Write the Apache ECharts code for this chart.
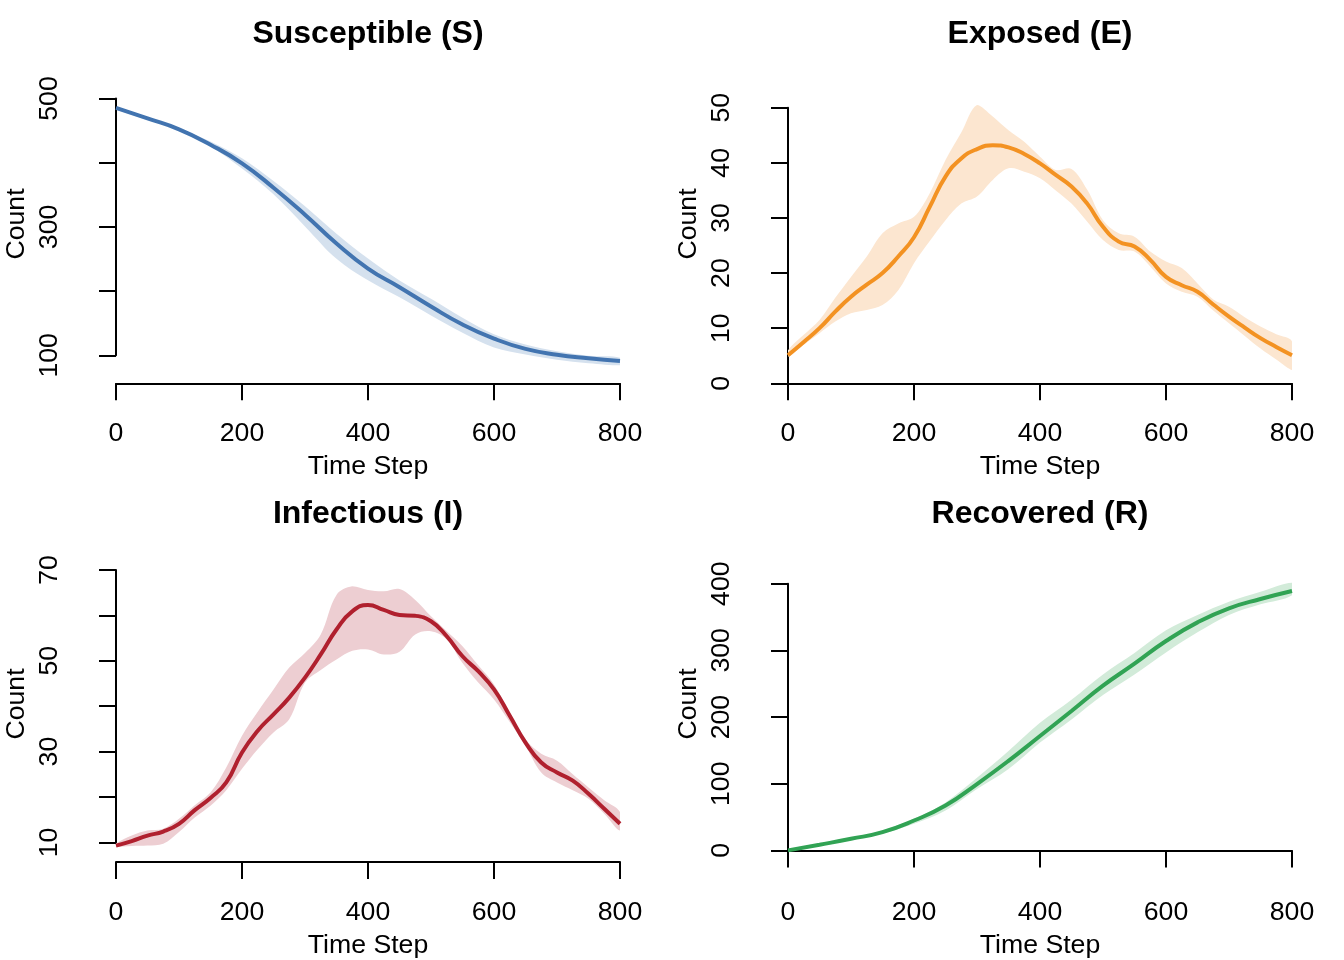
<!DOCTYPE html>
<html><head><meta charset="utf-8">
<script src="https://cdn.jsdelivr.net/npm/echarts@6/dist/echarts.min.js"></script>
<style>html,body{margin:0;padding:0;background:#fff}#c{width:1344px;height:960px}</style>
</head><body><div id="c"></div>
<script>
// ---- data ----
const stepsCoarse = [0,50,100,150,200,250,300,350,400,450,500,550,600,650,700,750,800];
const stepsFine = [0,25,50,75,100,125,150,175,200,225,250,275,300,325,350,375,400,425,450,475,500,525,550,575,600,625,650,675,700,725,750,775,800];
const xTicks = [0,200,400,600,800];

const susMean  = [485.5,469,452,428,399,361,319,274,235,206,176,148,126,110,101,95.5,91];
const susUpper = [486.5,470,453,433.2,406.8,371.5,332,289.3,250.6,216.5,187.9,158.4,132.6,116.7,106.2,99.2,96.3];
const susLower = [484.5,468,451,425.4,391,350.7,300.8,250.3,216.8,190.3,162,135,112,101.2,93.2,87.7,84.4];
const susYLabels = [100,300,500];

const expMean  = [5.1,7.5,10.0,13.0,15.7,17.9,20.0,23.0,26.5,32.0,37.5,40.8,42.5,43.2,42.8,41.6,39.9,37.8,35.7,32.6,28.4,25.7,24.8,22.4,19.3,17.8,16.6,14.3,12.1,10.1,8.2,6.6,5.1];
const expUpper = [6.0,8.8,11.5,15.5,19.3,23.0,27.2,29.0,30.2,34.5,40.5,45.5,50.5,48.4,45.9,43.8,41.1,38.7,38.9,35.1,29.6,27.2,26.6,23.9,22.1,20.9,18.1,15.2,13.9,12.0,10.3,8.9,7.6];
const expLower = [4.8,7.0,9.1,11.2,12.7,13.3,14.2,16.9,21.8,25.8,29.6,32.6,33.9,36.9,39.0,38.4,37.2,35.0,32.6,29.3,26.0,24.2,23.9,21.2,18.1,16.6,15.7,13.2,10.9,8.6,6.3,4.3,2.4];
const expYLabels = [0,10,20,30,40,50];

const infMean  = [9.3,10.3,11.5,12.4,14.1,17.1,19.8,23.2,29.8,34.6,38.2,41.9,46.3,51.4,56.9,60.9,62.3,61.2,60.1,59.9,58.7,55.4,51.0,47.7,43.7,37.9,32.0,27.6,25.4,23.6,20.7,17.4,14.1];
const infUpper = [9.7,11.5,12.6,13.0,15.2,18.2,21.0,26.5,33.5,38.8,43.7,48.5,51.7,55.8,64.5,66.4,65.6,65.3,65.8,63.4,59.8,56.5,53.2,49.0,44.8,38.5,32.7,29.5,28.0,25.0,22.1,19.3,16.7];
const infLower = [9.0,9.2,9.3,9.7,12.3,15.5,18.1,21.5,26.2,30.5,34.2,37.1,45.2,48.0,50.3,52.2,52.5,51.4,52.0,55.8,56.5,54.7,49.5,45.2,41.5,36.5,31.3,25.4,23.2,21.5,19.6,16.3,12.6];
const infYLabels = [10,30,50,70];

const recMean  = [0,8.5,17.4,27.4,44.8,67.2,99.5,134.3,171.6,209,247,280,314,342,363,377,389];
const recUpper = [1,9.5,19,30,47.3,72,109,149,191.5,226,264,296,330,353,373,388,401.5];
const recLower = [0,7.5,16,25,39.8,59.7,92,122,161.7,196.5,233,264,297,327,353,369,382.6];
const recYLabels = [0,100,200,300,400];

// ---- layout / style ----
const FONT = "'Liberation Sans', Arial, Helvetica, sans-serif";
const panels = [
  {title:'Susceptible (S)', t:stepsCoarse, mean:susMean, hi:susUpper, lo:susLower, labels:susYLabels,
   color:'#4274B0', band:'#D5E1EE', yMin:100, yMax:500, yStep:100,
   grid:{left:116, top:98.5, width:504, height:256.8}, xOff:28, cx:368, ty:18.5, cy:224},
  {title:'Exposed (E)', t:stepsFine, mean:expMean, hi:expUpper, lo:expLower, labels:expYLabels,
   color:'#F39222', band:'#FCE6D0', yMin:0, yMax:50, yStep:10,
   grid:{left:788, top:107.7, width:504, height:275.6}, xOff:0, cx:1040, ty:18.5, cy:224},
  {title:'Infectious (I)', t:stepsFine, mean:infMean, hi:infUpper, lo:infLower, labels:infYLabels,
   color:'#B0202E', band:'#EDCED2', yMin:10, yMax:70, yStep:10,
   grid:{left:116, top:570, width:504, height:273.7}, xOff:19.6, cx:368, ty:498.5, cy:704},
  {title:'Recovered (R)', t:stepsCoarse, mean:recMean, hi:recUpper, lo:recLower, labels:recYLabels,
   color:'#31A354', band:'#D2EBD9', yMin:0, yMax:400, yStep:100,
   grid:{left:788, top:583.7, width:504, height:268}, xOff:11.6, cx:1040, ty:498.5, cy:704}
];

const zip = (a, b) => a.map((v, i) => [v, b[i]]);
const grids = [], xAxes = [], yAxes = [], series = [], titles = [], graphics = [];
const axisLine = {show:true, lineStyle:{color:'#000', width:2}};
const axisTick = {show:true, length:17, lineStyle:{color:'#000', width:2}};

panels.forEach((p, i) => {
  grids.push(Object.assign({containLabel:false}, p.grid));
  xAxes.push({type:'value', gridIndex:i, min:xTicks[0], max:xTicks[xTicks.length-1], interval:xTicks[1]-xTicks[0],
    position:'bottom', offset:p.xOff, axisLine, axisTick, splitLine:{show:false},
    axisLabel:{color:'#000', fontSize:26.67, fontFamily:FONT, margin:37},
    name:'Time Step', nameLocation:'middle', nameGap:70,
    nameTextStyle:{color:'#000', fontSize:26.67, fontFamily:FONT}});
  yAxes.push({type:'value', gridIndex:i, min:p.yMin, max:p.yMax, interval:p.yStep,
    position:'left', offset:21, axisLine, axisTick, splitLine:{show:false},
    axisLabel:{color:'#000', fontSize:26.67, fontFamily:FONT, rotate:90, margin:31.5,
      formatter: v => p.labels.indexOf(v) >= 0 ? String(v) : ''}});
  // shaded band between lower and upper, through the axis scales
  series.push({type:'custom', xAxisIndex:i, yAxisIndex:i, data:[[p.t[0], p.mean[0]]], silent:true, clip:false,
    renderItem: (params, api) => {
      const up = p.t.map((t, k) => api.coord([t, p.hi[k]]));
      const dn = p.t.map((t, k) => api.coord([t, p.lo[k]])).reverse();
      const pts = up.concat(dn);
      let minX = Infinity, minY = Infinity, maxX = -Infinity, maxY = -Infinity;
      pts.forEach(q => { minX = Math.min(minX, q[0]); maxX = Math.max(maxX, q[0]); minY = Math.min(minY, q[1]); maxY = Math.max(maxY, q[1]); });
      return {type:'polygon', shape:{points:pts, smooth:0.35, smoothConstraint:[[minX, minY], [maxX, maxY]]},
        style:{fill:p.band}};
    }});
  series.push({type:'line', xAxisIndex:i, yAxisIndex:i, data:zip(p.t, p.mean),
    symbol:'none', smooth:0.5, clip:false, lineStyle:{color:p.color, width:4}});
  titles.push({text:p.title, left:p.cx, top:p.ty, textAlign:'center', padding:0,
    textStyle:{color:'#000', fontSize:32, fontWeight:'bold', fontFamily:FONT}});
  graphics.push({type:'text', x:p.grid.left - 116 + 16.5, y:p.cy, rotation:Math.PI/2,
    style:{text:'Count', fill:'#000', font:'26.67px ' + FONT, textAlign:'center', textVerticalAlign:'middle'}});
});

const chart = echarts.init(document.getElementById('c'), null, {renderer:'canvas'});
chart.setOption({
  animation:false, backgroundColor:'#fff',
  title:titles, grid:grids, xAxis:xAxes, yAxis:yAxes, series, graphic:graphics
});
</script></body></html>
